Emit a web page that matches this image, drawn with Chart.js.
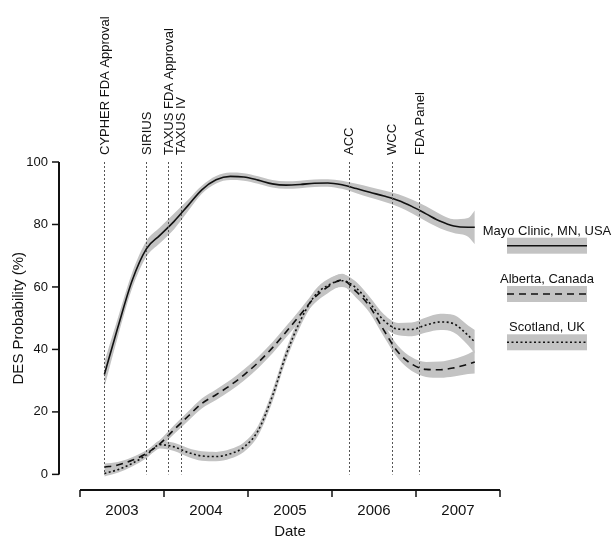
<!DOCTYPE html>
<html>
<head>
<meta charset="utf-8">
<title>DES Probability</title>
<script src="https://cdn.jsdelivr.net/npm/chart.js@4.4.1/dist/chart.umd.min.js"></script>
<style>
  html, body { margin: 0; padding: 0; background: #fff; }
  #wrap { width: 612px; height: 538px; }
</style>
</head>
<body>
<div id="wrap"><canvas id="chart" width="612" height="538"></canvas></div>
<script>
// dates as decimal years (every ~2 months)
const dates = [2003.29, 2003.45, 2003.62, 2003.79, 2003.95, 2004.12, 2004.29, 2004.45, 2004.62, 2004.79,
  2004.95, 2005.12, 2005.29, 2005.45, 2005.62, 2005.79, 2005.95, 2006.12, 2006.29, 2006.45,
  2006.62, 2006.79, 2006.95, 2007.12, 2007.29, 2007.45, 2007.62, 2007.70];

const mayo = [32, 47, 62, 72.2, 76.5, 81, 86.2, 91.1, 94.3, 95.4, 95.2, 94.2, 93.0, 92.6, 92.8, 93.2,
  93.3, 92.7, 91.5, 90.3, 89.1, 87.7, 85.8, 83.4, 81, 79.5, 79.1, 79.1];
const mayoHalf = [4, 3, 2.5, 2.5, 2.5, 2.5, 1.8, 1.3, 1.2, 1.2, 1.2, 1.2, 1.2, 1.2, 1.2, 1.2,
  1.2, 1.3, 1.5, 1.7, 1.8, 2, 2.2, 2.4, 2.3, 2.2, 3, 5.4];

const alberta = [2.3, 3.0, 4.5, 6.7, 9.8, 14.3, 18.7, 22.7, 25.5, 28.5, 31.8, 35.8, 40.5, 45.5, 51, 56.5,
  60, 62.2, 58.5, 53.7, 46, 39, 35.3, 33.6, 33.5, 34.1, 35.3, 36];
const albertaHalf = [1.2, 1, 1, 1, 1.2, 1.4, 1.5, 1.6, 1.7, 1.7, 1.8, 1.8, 1.8, 1.8, 1.8, 1.8,
  2, 2, 2, 2, 2, 2, 2.2, 2.4, 2.6, 2.8, 3.2, 3.7];

const scotland = [0.3, 1.5, 3.5, 6.2, 9.5, 8.8, 7.0, 5.9, 5.7, 6.6, 8.7, 14, 25, 38, 49, 57,
  60.5, 62, 59.6, 54.8, 49.2, 46.5, 46.4, 47.8, 48.8, 48.2, 44.5, 42.4];
const scotlandHalf = [1, 1, 1, 1, 1.2, 1.3, 1.4, 1.5, 1.5, 1.5, 1.5, 1.6, 1.8, 1.8, 1.8, 1.8,
  2, 2, 2, 2, 2, 2, 2.2, 2.4, 2.6, 2.8, 3.2, 3.8];

const seriesNames = ['Mayo Clinic, MN, USA', 'Alberta, Canada', 'Scotland, UK'];

const eventNames = ['CYPHER FDA Approval', 'SIRIUS', 'TAXUS FDA Approval', 'TAXUS IV', 'ACC', 'WCC', 'FDA Panel'];
const eventDates = [2003.29, 2003.79, 2004.05, 2004.20, 2006.20, 2006.71, 2007.04];

const yTicks = [0, 20, 40, 60, 80, 100];
const yearTicks = [2003, 2004, 2005, 2006, 2007, 2008];
const yearLabels = ['2003', '2004', '2005', '2006', '2007'];

const BAND = '#c3c3c3';
const INK = '#111';
const FONT = '"Liberation Sans", Arial, Helvetica, sans-serif';

function pts(vals, shift) {
  return dates.map((d, i) => ({ x: d, y: vals[i] + (shift ? shift[i] : 0) }));
}
function neg(arr) { return arr.map(v => -v); }

function bandPair(vals, half) {
  return [
    { data: pts(vals, half), borderWidth: 0, pointRadius: 0, fill: false, order: 2, cubicInterpolationMode: 'monotone' },
    { data: pts(vals, neg(half)), borderWidth: 0, pointRadius: 0, fill: '-1', backgroundColor: BAND, order: 2, cubicInterpolationMode: 'monotone' }
  ];
}

const lineStyles = [[], [7, 5], [2, 2.5]];

function lineSet(vals, k) {
  return {
    label: seriesNames[k], data: pts(vals), borderColor: INK, borderWidth: 1.6, borderDash: lineStyles[k],
    pointRadius: 0, fill: false, order: 0, cubicInterpolationMode: 'monotone'
  };
}

// axes, event markers and legend drawn R-style from the chart's scales
const decor = {
  id: 'decor',
  afterDatasetsDraw(chart) {
    const ctx = chart.ctx, xs = chart.scales.x, ys = chart.scales.y, area = chart.chartArea;
    const y0 = ys.getPixelForValue(0), y100 = ys.getPixelForValue(100);
    ctx.save();

    // event lines + labels
    ctx.strokeStyle = '#555';
    ctx.lineWidth = 1;
    ctx.setLineDash([2, 2]);
    eventDates.forEach((d, i) => {
      const px = Math.round(xs.getPixelForValue(d)) + 0.5;
      ctx.beginPath();
      ctx.moveTo(px, y100);
      ctx.lineTo(px, y0);
      ctx.stroke();
    });
    ctx.setLineDash([]);
    ctx.fillStyle = INK;
    ctx.font = '13px ' + FONT;
    ctx.textAlign = 'left';
    ctx.textBaseline = 'middle';
    eventDates.forEach((d, i) => {
      const px = xs.getPixelForValue(d) + 1;
      ctx.save();
      ctx.translate(px, y100 - 7);
      ctx.rotate(-Math.PI / 2);
      ctx.fillText(eventNames[i], 0, 0);
      ctx.restore();
    });

    // y axis
    ctx.strokeStyle = INK;
    ctx.lineWidth = 2;
    ctx.beginPath();
    ctx.moveTo(area.left, y0);
    ctx.lineTo(area.left, y100);
    ctx.stroke();
    ctx.lineWidth = 1.5;
    ctx.textAlign = 'right';
    ctx.font = '13px ' + FONT;
    yTicks.forEach(v => {
      const py = ys.getPixelForValue(v);
      ctx.beginPath();
      ctx.moveTo(area.left - 7, py);
      ctx.lineTo(area.left, py);
      ctx.stroke();
      ctx.fillText(String(v), area.left - 11, py);
    });

    // x axis
    const xa = xs.getPixelForValue(yearTicks[0]), xb = xs.getPixelForValue(yearTicks[yearTicks.length - 1]);
    ctx.lineWidth = 2;
    ctx.beginPath();
    ctx.moveTo(xa, area.bottom);
    ctx.lineTo(xb, area.bottom);
    ctx.stroke();
    ctx.lineWidth = 1.5;
    yearTicks.forEach(t => {
      const px = xs.getPixelForValue(t);
      ctx.beginPath();
      ctx.moveTo(px, area.bottom);
      ctx.lineTo(px, area.bottom + 7);
      ctx.stroke();
    });
    ctx.textAlign = 'center';
    ctx.font = '15px ' + FONT;
    yearLabels.forEach((lab, i) => {
      ctx.fillText(lab, xs.getPixelForValue(yearTicks[i] + 0.5), area.bottom + 21);
    });
    ctx.fillText('Date', (xa + xb) / 2, area.bottom + 42);

    // y title
    ctx.save();
    ctx.translate(19, (y0 + y100) / 2);
    ctx.rotate(-Math.PI / 2);
    ctx.font = '15px ' + FONT;
    ctx.fillText('DES Probability (%)', 0, 0);
    ctx.restore();

    // legend on the right
    const lx0 = area.right + 7, lx1 = area.right + 87, lcx = (lx0 + lx1) / 2;
    const swatchY = [245.7, 294, 342.3];
    ctx.font = '13px ' + FONT;
    ctx.textBaseline = 'alphabetic';
    seriesNames.forEach((name, k) => {
      const cy = swatchY[k];
      ctx.fillStyle = BAND;
      ctx.fillRect(lx0, cy - 8, lx1 - lx0, 16);
      ctx.strokeStyle = INK;
      ctx.lineWidth = 1.6;
      ctx.setLineDash(lineStyles[k]);
      ctx.beginPath();
      ctx.moveTo(lx0, cy);
      ctx.lineTo(lx1, cy);
      ctx.stroke();
      ctx.setLineDash([]);
      ctx.fillStyle = INK;
      ctx.fillText(name, lcx, cy - 11);
    });

    ctx.restore();
  }
};

new Chart(document.getElementById('chart'), {
  type: 'line',
  data: {
    datasets: [
      lineSet(mayo, 0), lineSet(alberta, 1), lineSet(scotland, 2),
      ...bandPair(mayo, mayoHalf), ...bandPair(alberta, albertaHalf), ...bandPair(scotland, scotlandHalf)
    ]
  },
  options: {
    responsive: false,
    animation: false,
    layout: { padding: { left: 59, right: 112, top: 162, bottom: 48 } },
    scales: {
      x: { type: 'linear', min: 2002.75, max: 2008, display: false },
      y: { min: -5, max: 100, display: false }
    },
    plugins: { legend: { display: false }, tooltip: { enabled: false } }
  },
  plugins: [decor]
});
</script>
</body>
</html>
